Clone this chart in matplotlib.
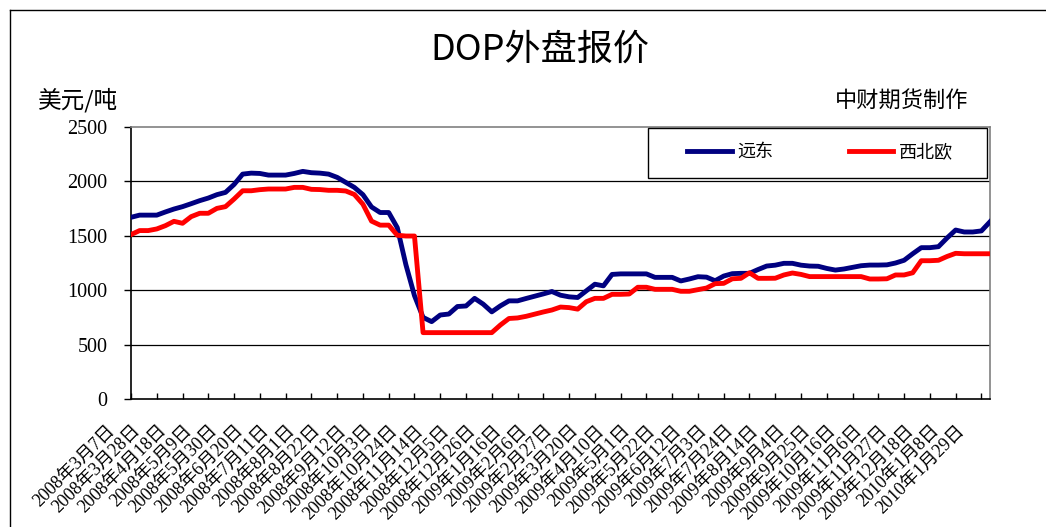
import matplotlib
matplotlib.use("Agg")
import matplotlib.pyplot as plt
from matplotlib.lines import Line2D
from matplotlib.patches import Rectangle

# ---------------- data ----------------
far_east = [1670, 1690, 1690, 1690, 1719, 1746, 1768, 1795, 1823, 1847,
            1878, 1899, 1972, 2067, 2076, 2073, 2058, 2058, 2058, 2073,
            2092, 2080, 2076, 2067, 2037, 1991, 1945, 1878, 1765, 1714,
            1714, 1575, 1235, 950, 750, 711, 772, 781, 850, 855,
            925, 872, 801, 856, 902, 902, 924, 945, 966, 988,
            954, 939, 933, 994, 1055, 1040, 1145, 1150, 1150, 1150,
            1150, 1118, 1118, 1118, 1085, 1103, 1124, 1120, 1087, 1130,
            1152, 1155, 1155, 1190, 1222, 1230, 1247, 1247, 1230, 1222,
            1220, 1200, 1185, 1195, 1210, 1225, 1231, 1231, 1233, 1250,
            1275, 1335, 1391, 1391, 1400, 1480, 1553, 1535, 1535, 1545,
            1629]
nw_europe = [1511, 1548, 1548, 1563, 1593, 1633, 1615, 1676, 1707, 1707,
             1752, 1768, 1838, 1914, 1914, 1924, 1930, 1930, 1930, 1945,
             1945, 1927, 1925, 1918, 1918, 1912, 1880, 1790, 1635, 1598,
             1598, 1505, 1498, 1498, 610, 610, 610, 610, 610, 610,
             610, 610, 610, 680, 740, 745, 760, 780, 800, 818,
             845, 840, 826, 894, 925, 925, 962, 962, 965, 1027,
             1027, 1008, 1008, 1008, 990, 990, 1005, 1020, 1060, 1063,
             1105, 1109, 1160, 1109, 1109, 1110, 1140, 1158, 1145, 1125,
             1125, 1125, 1125, 1125, 1125, 1125, 1103, 1103, 1105, 1140,
             1140, 1160, 1271, 1271, 1275, 1310, 1339, 1335, 1335, 1335,
             1335]
date_labels = ["2008年3月7日", "2008年3月28日", "2008年4月18日", "2008年5月9日",
               "2008年5月30日", "2008年6月20日", "2008年7月11日", "2008年8月1日",
               "2008年8月22日", "2008年9月12日", "2008年10月3日", "2008年10月24日",
               "2008年11月14日", "2008年12月5日", "2008年12月26日", "2009年1月16日",
               "2009年2月6日", "2009年2月27日", "2009年3月20日", "2009年4月10日",
               "2009年5月1日", "2009年5月22日", "2009年6月12日", "2009年7月3日",
               "2009年7月24日", "2009年8月14日", "2009年9月4日", "2009年9月25日",
               "2009年10月16日", "2009年11月6日", "2009年11月27日", "2009年12月18日",
               "2010年1月8日", "2010年1月29日"]
series_names = ["远东", "西北欧"]
y_ticks = [0, 500, 1000, 1500, 2000, 2500]

SERIF = ["Liberation Serif", "Noto Sans CJK SC", "DejaVu Sans"]
CJK = ["Noto Sans CJK SC", "DejaVu Sans"]

W, H = 1046, 527
fig = plt.figure(figsize=(W / 100, H / 100), dpi=100)
fig.patch.set_facecolor("white")

# outer frame (top and left visible)
fig.add_artist(Line2D([10 / W, 10 / W], [0, 1 - 10 / H], color="black", lw=1.0))
fig.add_artist(Line2D([10 / W, 1], [1 - 10 / H, 1 - 10 / H], color="black", lw=1.0))

L, R, T, B = 131, 990, 127, 399
ax = fig.add_axes([L / W, 1 - B / H, (R - L) / W, (B - T) / H])

x = list(range(len(far_east)))
ax.plot(x, far_east, color="#000080", lw=3.5, label=series_names[0],
        solid_joinstyle="round", zorder=3)
ax.plot(x, nw_europe, color="#FF0000", lw=3.5, label=series_names[1],
        solid_joinstyle="round", zorder=3)

ax.set_xlim(0, len(far_east) - 1)
ax.set_ylim(0, 2500)
ax.set_yticks(y_ticks)
ax.set_yticklabels([str(v) for v in y_ticks], family=SERIF, fontsize=14.5)
ax.tick_params(axis="y", direction="out", length=5, width=1, pad=12)
for v in y_ticks[1:-1]:
    ax.axhline(v, color="black", lw=0.9, zorder=1)

tick_pos = list(range(0, len(far_east), 3))[:len(date_labels)]
ax.set_xticks(tick_pos)
ax.set_xticklabels([])
ax.tick_params(axis="x", direction="in", length=4, width=1)
for p, lab in zip(tick_pos, date_labels):
    ax.annotate(lab, xy=(p, 0), xycoords=("data", "axes fraction"),
                xytext=(-19, -29), textcoords="offset pixels",
                rotation=45, rotation_mode="anchor", ha="right", va="center",
                family=SERIF, fontsize=13, annotation_clip=False)

for s in ("left", "bottom"):
    ax.spines[s].set_color("black")
    ax.spines[s].set_linewidth(1.2)
for s in ("top", "right"):
    ax.spines[s].set_color("#808080")
    ax.spines[s].set_linewidth(1.2)

# legend box
lx0, lx1, ly0, ly1 = 648, 987, 128, 178
ax.add_patch(Rectangle(((lx0 - L) / (R - L), (B - ly1) / (B - T)),
                       (lx1 - lx0) / (R - L), (ly1 - ly0) / (B - T),
                       transform=ax.transAxes, facecolor="white",
                       edgecolor="black", lw=1.0, zorder=4, clip_on=False))
leg = ax.legend(loc="center", bbox_to_anchor=((820 - L) / (R - L), (B - 152) / (B - T)),
                ncol=2, frameon=False, handlelength=2.45, handletextpad=0.3,
                columnspacing=4.2, prop={"family": CJK, "size": 13})
leg.set_zorder(5)

fig.text(540 / W, 1 - 50 / H, "DOP外盘报价", family=CJK, fontsize=26,
         ha="center", va="center")
fig.text(38 / W, 1 - 100 / H, "美元/吨", family=CJK, fontsize=17,
         ha="left", va="center")
fig.text(968 / W, 1 - 100 / H, "中财期货制作", family=CJK, fontsize=16,
         ha="right", va="center")

fig.savefig("out.png", dpi=100, facecolor="white")
